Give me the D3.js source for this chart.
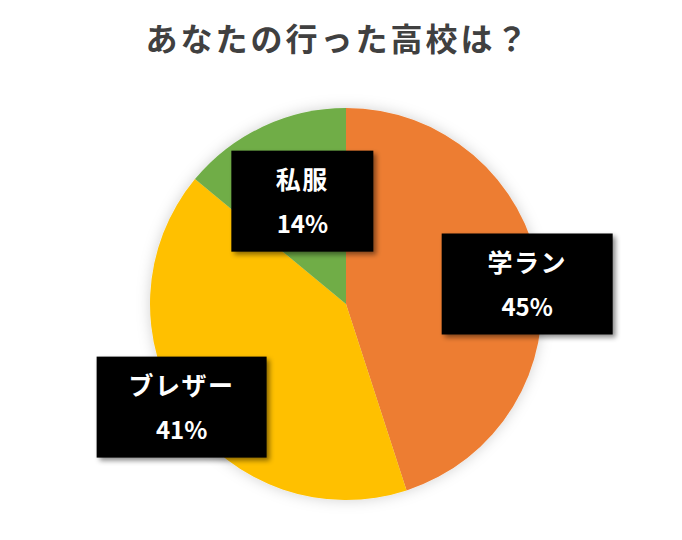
<!DOCTYPE html>
<html lang="ja">
<head>
<meta charset="utf-8">
<script src="https://cdn.jsdelivr.net/npm/d3@7"></script>
<style>
  html, body { margin: 0; padding: 0; background: #fff; }
  svg { display: block; font-family: "Noto Sans CJK JP", "Noto Sans", sans-serif; }
</style>
</head>
<body>
<svg id="chart" width="682" height="540"></svg>
<script>
const TITLE = 'あなたの行った高校は？';
const categories = ['学ラン', 'ブレザー', '私服'];
const shares = [45, 41, 14];
const colors = ['#ED7D31', '#FFC000', '#70AD47'];

// Where each label box sits: fraction of the radius along the slice's mid angle,
// a small angle nudge (degrees) and the box width.
const LABEL_LAYOUT = [
  { r: 0.93, da: 2.7, w: 171 },
  { r: 0.99, da: 2.1, w: 170 },
  { r: 0.57, da: 2.2, w: 142 }
];

const width = 682;
const height = 540;
const cx = 346;
const cy = 304;
const radius = 196;
const boxH = 101;

const svg = d3.select('#chart');
const defs = svg.append('defs');

const pieShadow = defs.append('filter').attr('id', 'pieShadow')
  .attr('x', '-20%').attr('y', '-20%').attr('width', '140%').attr('height', '140%');
pieShadow.append('feDropShadow')
  .attr('dx', 0).attr('dy', 0).attr('stdDeviation', 7)
  .attr('flood-color', '#000').attr('flood-opacity', 0.18);

const boxShadow = defs.append('filter').attr('id', 'boxShadow')
  .attr('x', '-20%').attr('y', '-20%').attr('width', '140%').attr('height', '140%');
boxShadow.append('feDropShadow')
  .attr('dx', 3).attr('dy', 3).attr('stdDeviation', 2.5)
  .attr('flood-color', '#000').attr('flood-opacity', 0.45);

svg.append('text')
  .attr('x', 338)
  .attr('y', 51)
  .attr('text-anchor', 'middle')
  .attr('font-size', 32)
  .attr('font-weight', 700)
  .attr('letter-spacing', 3)
  .attr('fill', '#404040')
  .text(TITLE);

const data = categories.map((name, i) => ({ name, value: shares[i], color: colors[i] }));

const pie = d3.pie().sort(null).value((d) => d.value);
const arcs = pie(data);
const arc = d3.arc().innerRadius(0).outerRadius(radius);

const g = svg.append('g').attr('transform', `translate(${cx},${cy})`);

g.append('g')
  .attr('filter', 'url(#pieShadow)')
  .selectAll('path')
  .data(arcs)
  .join('path')
  .attr('d', arc)
  .attr('fill', (d) => d.data.color);

const labels = g.append('g')
  .selectAll('g.label')
  .data(arcs)
  .join('g')
  .attr('class', 'label')
  .attr('transform', (d, i) => {
    const lay = LABEL_LAYOUT[i];
    const a = (d.startAngle + d.endAngle) / 2 + (lay.da * Math.PI) / 180;
    const rr = radius * lay.r;
    return `translate(${rr * Math.sin(a)},${-rr * Math.cos(a)})`;
  });

labels.append('rect')
  .attr('x', (d, i) => -LABEL_LAYOUT[i].w / 2)
  .attr('y', -boxH / 2)
  .attr('width', (d, i) => LABEL_LAYOUT[i].w)
  .attr('height', boxH)
  .attr('fill', '#000')
  .attr('filter', 'url(#boxShadow)');

labels.append('text')
  .attr('text-anchor', 'middle')
  .attr('y', -12)
  .attr('font-size', 25)
  .attr('font-weight', 700)
  .attr('letter-spacing', 1.5)
  .attr('fill', '#fff')
  .text((d) => d.data.name);

labels.append('text')
  .attr('text-anchor', 'middle')
  .attr('y', 32)
  .attr('font-size', 24)
  .attr('font-weight', 700)
  .attr('fill', '#fff')
  .text((d) => `${d.data.value}%`);
</script>
</body>
</html>
